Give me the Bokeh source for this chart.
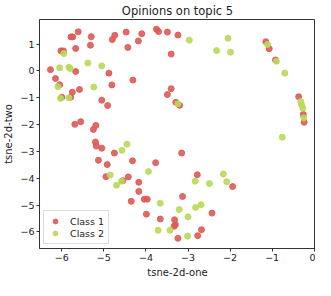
from bokeh.plotting import figure
from bokeh.models import ColumnDataSource, FixedTicker, Range1d, Legend, LegendItem
from bokeh.embed import file_html
from bokeh.resources import INLINE

class1_x = [-5.61, -4.47, -5.78, -5.74, -5.30, -4.74, -4.80, -5.32, -4.43, -6.02, -5.96, -5.67,
            -6.27, -5.67, -4.88, -6.15, -4.31, -6.05, -4.81, -5.58, -5.75, -6.00, -5.79, -5.05,
            -4.10, -3.75, -3.70, -3.49, -3.24, -4.18, -3.40, -3.40, -3.49, -3.29, -3.20, -3.15,
            -4.32, -3.77, -4.42, -2.78, -4.91, -5.69, -5.55, -5.19, -5.25, -5.20, -5.18, -5.05,
            -4.75, -5.13, -4.92, -4.95, -4.55, -4.35, -4.17, -4.17, -4.04, -3.97, -3.13, -2.43,
            -3.99, -3.66, -3.32, -3.30, -3.33, -3.24, -2.77, -2.68, -1.94, -1.15, -1.07, -0.92,
            -0.37, -0.26, -0.24]
class1_y = [1.46, 1.45, 1.27, 1.27, 1.28, 1.33, 1.17, 0.96, 0.88, 0.75, 0.75, 0.84,
            0.05, -0.02, -0.08, -0.28, -0.34, -0.51, -0.52, -0.69, -0.79, -0.98, -0.98, -1.09,
            1.39, 1.56, 1.47, 1.45, 1.34, 1.12, 0.63, -0.66, -0.88, -1.17, -1.28, -3.06,
            -3.35, -3.42, -3.95, -3.87, -1.29, -1.99, -1.89, -2.03, -2.18, -2.65, -2.80, -2.88,
            -3.06, -3.33, -3.49, -3.94, -4.09, -4.86, -4.15, -4.49, -4.78, -4.78, -4.68, -5.30,
            -5.34, -5.52, -5.55, -5.73, -5.79, -6.24, -6.14, -5.92, -4.31, 1.09, 0.83, 0.41,
            -0.96, -1.62, -1.91]

class2_x = [-5.95, -5.38, -5.05, -6.05, -5.83, -5.80, -6.09, -5.24, -6.03, -5.83, -2.97, -2.32,
            -2.05, -1.99, -3.24, -4.45, -4.57, -3.94, -2.16, -4.85, -4.70, -4.58, -3.66, -2.83,
            -2.49, -2.08, -3.21, -2.82, -2.69, -3.00, -3.71, -3.43, -3.01, -1.11, -0.90, -0.70,
            -0.32, -0.30, -0.27, -0.25, -0.76]
class2_y = [0.65, 0.30, 0.19, 0.12, 0.14, 0.09, -0.59, -0.60, -1.02, -1.00, 1.15, 0.76,
            1.22, 0.70, -1.22, -2.73, -2.96, -3.75, -3.84, -3.88, -4.26, -4.11, -4.93, -4.11,
            -4.20, -4.13, -5.17, -5.09, -4.99, -5.44, -5.94, -5.94, -6.16, 0.99, 0.36, -0.08,
            -1.14, -1.26, -1.39, -1.75, -2.47]

x_ticks = [-6, -5, -4, -3, -2, -1, 0]
y_ticks = [-6, -5, -4, -3, -2, -1, 0, 1]

FONT = "DejaVu Sans"
RED = "#de5a55"
GREEN = "#b8d95a"

p = figure(width=315, height=280, output_backend="svg", toolbar_location=None,
           x_range=Range1d(-6.53, 0.03), y_range=Range1d(-6.62, 1.92),
           min_border_left=30, min_border_right=0, min_border_top=6, min_border_bottom=0)

p.title.text = "Opinions on topic 5"
p.title.align = "center"
p.title.text_font = FONT
p.title.text_font_size = "11.5px"
p.title.text_font_style = "normal"
p.title.text_color = "#222222"
p.title.standoff = 3

s1 = ColumnDataSource(dict(x=class1_x, y=class1_y))
s2 = ColumnDataSource(dict(x=class2_x, y=class2_y))
r1 = p.scatter("x", "y", source=s1, size=6, fill_color=RED, line_color=RED, fill_alpha=0.9, line_alpha=0.9)
r2 = p.scatter("x", "y", source=s2, size=6, fill_color=GREEN, line_color=GREEN, fill_alpha=0.9, line_alpha=0.9)

p.xgrid.visible = False
p.ygrid.visible = False
p.outline_line_color = "#333333"
p.outline_line_width = 1
p.background_fill_color = "white"
p.border_fill_color = "white"

p.xaxis.ticker = FixedTicker(ticks=x_ticks)
p.yaxis.ticker = FixedTicker(ticks=y_ticks)
p.xaxis.major_label_overrides = {t: ("−" + str(-t) if t < 0 else str(t)) for t in x_ticks}
p.yaxis.major_label_overrides = {t: ("−" + str(-t) if t < 0 else str(t)) for t in y_ticks}
for ax in (p.xaxis, p.yaxis):
    ax.minor_tick_line_color = None
    ax.major_tick_in = 0
    ax.major_tick_out = 3
    ax.axis_line_color = "#333333"
    ax.major_tick_line_color = "#333333"
    ax.major_label_text_font = FONT
    ax.major_label_text_font_size = "9.5px"
    ax.major_label_text_color = "#222222"
    ax.major_label_standoff = 2
    ax.axis_label_text_font = FONT
    ax.axis_label_text_font_size = "10px"
    ax.axis_label_text_font_style = "normal"
    ax.axis_label_text_color = "#222222"
    ax.axis_label_standoff = 3
p.xaxis.axis_label = "tsne-2d-one"
p.yaxis.axis_label = "tsne-2d-two"

legend = Legend(items=[LegendItem(label="Class 1", renderers=[r1]),
                       LegendItem(label="Class 2", renderers=[r2])],
                location="bottom_left")
legend.label_text_font = FONT
legend.label_text_font_size = "9.5px"
legend.label_text_color = "#222222"
legend.border_line_color = "#dddddd"
legend.border_line_alpha = 1
legend.background_fill_alpha = 0.8
legend.glyph_width = 14
legend.glyph_height = 12
legend.label_height = 12
legend.spacing = 0
legend.padding = 4
legend.margin = 4
legend.label_standoff = 8
p.add_layout(legend)

open("out.html", "w").write(file_html(p, INLINE))
